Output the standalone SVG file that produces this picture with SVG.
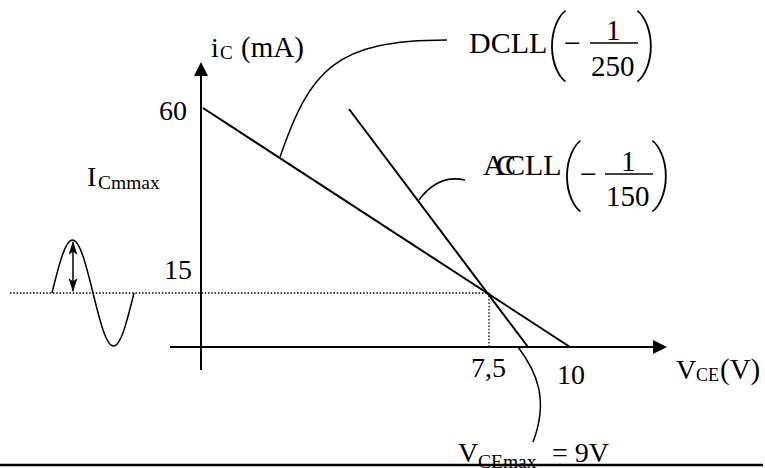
<svg xmlns="http://www.w3.org/2000/svg" width="765" height="468" viewBox="0 0 765 468">
<style>
.t{font-family:"Liberation Serif","Times New Roman",serif;fill:#000}
.ln{stroke:#000;stroke-width:2;fill:none}
.co{stroke:#000;stroke-width:1.5;fill:none}
.dot{stroke:#000;stroke-width:1.3;stroke-dasharray:1.5 1.8;fill:none}
.par{font-family:Roboto,"Liberation Sans",sans-serif;font-weight:100;font-size:70px;fill:#000}
</style>
<defs>
<marker id="ah" markerUnits="userSpaceOnUse" markerWidth="15" markerHeight="14" refX="0" refY="7" orient="auto"><path d="M0,0 L14,7 L0,14 z" fill="#000"/></marker>
<marker id="sh" markerUnits="userSpaceOnUse" markerWidth="14" markerHeight="10" refX="13" refY="4.5" orient="auto-start-reverse"><path d="M0,0 L14,4.5 L0,9 L3.5,4.5 z" fill="#000"/></marker>
</defs>

<g id="axes">
<line class="ln" x1="201" y1="370" x2="201" y2="76" marker-end="url(#ah)"/>
<line class="ln" x1="170" y1="347" x2="653" y2="347" marker-end="url(#ah)"/>
</g>

<g id="connectors">
<line id="dcll-line" class="ln" x1="203" y1="108" x2="570" y2="347"/>
<line id="acll-line" class="ln" x1="349" y1="109" x2="528" y2="347"/>
<path id="q-point" class="dot" d="M10,293 H489 V347"/>
<path id="dcll-callout" class="co" d="M280,157 C310,70 335,40 447,40"/>
<path id="acll-callout" class="co" d="M419,200 Q438,174 465,180"/>
<path id="vcemax-callout" class="co" d="M518,347 C537,372 549,400 533,442"/>
</g>

<g id="signal">
<path class="co" stroke-width="2" d="M52,293 C58.85,265.2 65.1,240 72.5,240 C79.9,240 86.15,265.2 93,293 C99.85,320.8 106.1,346 113.5,346 C120.9,346 127.15,320.8 134,293"/>
<line class="co" x1="73" y1="242" x2="73" y2="291" marker-start="url(#sh)" marker-end="url(#sh)"/>
</g>

<g id="label-ic">
<text class="t" font-size="28"><tspan x="211" y="57">i</tspan><tspan x="220" y="59" font-size="19">C</tspan><tspan x="241" y="57" font-size="29">(mA)</tspan></text>
</g>
<g id="label-60"><text class="t" font-size="28" x="159" y="120">60</text></g>
<g id="label-15"><text class="t" font-size="28" x="164" y="279">15</text></g>
<g id="label-icmmax">
<text class="t" font-size="28"><tspan x="87" y="186">I</tspan><tspan x="98" y="189" font-size="19.5">Cmmax</tspan></text>
</g>
<g id="label-75"><text class="t" font-size="28" x="471" y="377">7,5</text></g>
<g id="label-10"><text class="t" font-size="28" x="557" y="384">10</text></g>
<g id="label-vce">
<text class="t" font-size="28"><tspan x="676" y="379">V</tspan><tspan x="696" y="381" font-size="18">CE</tspan><tspan x="720" y="379" font-size="29">(V)</tspan></text>
</g>

<g id="dcll">
<text class="t" font-size="30" x="469" y="53">DCLL</text>
<text class="par" x="546" y="66">(</text>
<text class="t" font-size="30" x="564" y="53">−</text>
<text class="t" font-size="29" x="606" y="40">1</text>
<line x1="590" y1="43" x2="638" y2="43" stroke="#000" stroke-width="1.3"/>
<text class="t" font-size="29" x="591" y="76">250</text>
<text class="par" x="636" y="66">)</text>
</g>

<g id="acll">
<text class="t" font-size="30"><tspan x="483" y="175">A</tspan><tspan x="496" y="175">C</tspan><tspan x="505" y="175">CLL</tspan></text>
<text class="par" x="561" y="196">(</text>
<text class="t" font-size="30" x="580" y="184">−</text>
<text class="t" font-size="29" x="621" y="171">1</text>
<line x1="605" y1="174" x2="653" y2="174" stroke="#000" stroke-width="1.3"/>
<text class="t" font-size="29" x="606" y="206">150</text>
<text class="par" x="651" y="196">)</text>
</g>

<g id="label-vcemax">
<text class="t" font-size="28"><tspan x="458" y="462">V</tspan><tspan x="478" y="468" font-size="19.5">CEmax</tspan><tspan x="545" y="462"> = 9V</tspan></text>
</g>

<line id="baseline-rule" x1="0" y1="465" x2="763" y2="465" stroke="#000" stroke-width="2.5"/>
</svg>
